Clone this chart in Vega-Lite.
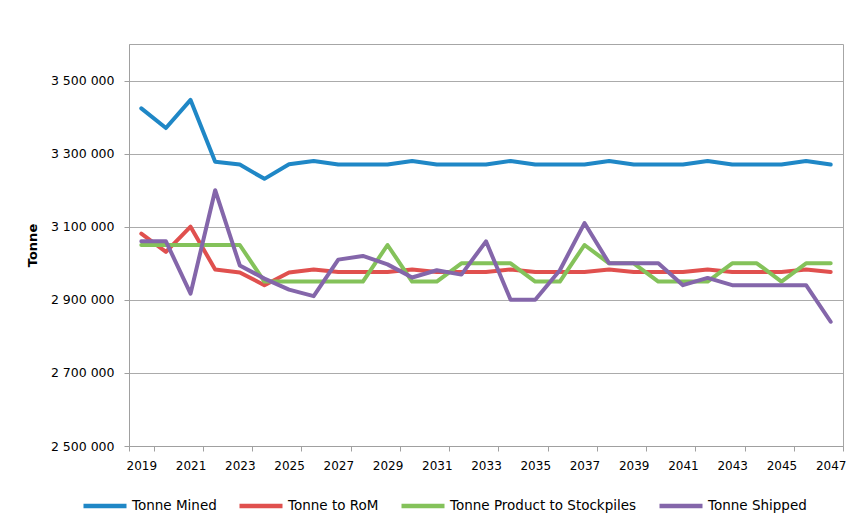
{
  "$schema": "https://vega.github.io/schema/vega-lite/v6.json",
  "width": 714,
  "height": 402,
  "autosize": {"type": "none"},
  "padding": {"left": 129, "top": 44, "right": 18, "bottom": 84},
  "background": "white",
  "config": {
    "font": "DejaVu Sans",
    "view": {"stroke": "#a6a6a6", "strokeWidth": 1},
    "axis": {"labelFont": "DejaVu Sans", "labelColor": "#000000", "titleFont": "DejaVu Sans"}
  },
  "data": {
    "values": [
      {"year": 2019, "Tonne Mined": 3424000, "Tonne to RoM": 3081000, "Tonne Product to Stockpiles": 3050000, "Tonne Shipped": 3060000},
      {"year": 2020, "Tonne Mined": 3370000, "Tonne to RoM": 3031000, "Tonne Product to Stockpiles": 3050000, "Tonne Shipped": 3060000},
      {"year": 2021, "Tonne Mined": 3447000, "Tonne to RoM": 3100000, "Tonne Product to Stockpiles": 3050000, "Tonne Shipped": 2917000},
      {"year": 2022, "Tonne Mined": 3278000, "Tonne to RoM": 2983000, "Tonne Product to Stockpiles": 3050000, "Tonne Shipped": 3200000},
      {"year": 2023, "Tonne Mined": 3270000, "Tonne to RoM": 2975000, "Tonne Product to Stockpiles": 3050000, "Tonne Shipped": 2994000},
      {"year": 2024, "Tonne Mined": 3231000, "Tonne to RoM": 2940000, "Tonne Product to Stockpiles": 2950000, "Tonne Shipped": 2958000},
      {"year": 2025, "Tonne Mined": 3271000, "Tonne to RoM": 2975000, "Tonne Product to Stockpiles": 2950000, "Tonne Shipped": 2928000},
      {"year": 2026, "Tonne Mined": 3280000, "Tonne to RoM": 2983000, "Tonne Product to Stockpiles": 2950000, "Tonne Shipped": 2910000},
      {"year": 2027, "Tonne Mined": 3270000, "Tonne to RoM": 2976000, "Tonne Product to Stockpiles": 2950000, "Tonne Shipped": 3010000},
      {"year": 2028, "Tonne Mined": 3270000, "Tonne to RoM": 2976000, "Tonne Product to Stockpiles": 2950000, "Tonne Shipped": 3020000},
      {"year": 2029, "Tonne Mined": 3270000, "Tonne to RoM": 2976000, "Tonne Product to Stockpiles": 3050000, "Tonne Shipped": 2997000},
      {"year": 2030, "Tonne Mined": 3280000, "Tonne to RoM": 2983000, "Tonne Product to Stockpiles": 2950000, "Tonne Shipped": 2961000},
      {"year": 2031, "Tonne Mined": 3270000, "Tonne to RoM": 2976000, "Tonne Product to Stockpiles": 2950000, "Tonne Shipped": 2981000},
      {"year": 2032, "Tonne Mined": 3270000, "Tonne to RoM": 2976000, "Tonne Product to Stockpiles": 3000000, "Tonne Shipped": 2969000},
      {"year": 2033, "Tonne Mined": 3270000, "Tonne to RoM": 2976000, "Tonne Product to Stockpiles": 3000000, "Tonne Shipped": 3060000},
      {"year": 2034, "Tonne Mined": 3280000, "Tonne to RoM": 2983000, "Tonne Product to Stockpiles": 3000000, "Tonne Shipped": 2900000},
      {"year": 2035, "Tonne Mined": 3270000, "Tonne to RoM": 2976000, "Tonne Product to Stockpiles": 2950000, "Tonne Shipped": 2900000},
      {"year": 2036, "Tonne Mined": 3270000, "Tonne to RoM": 2976000, "Tonne Product to Stockpiles": 2950000, "Tonne Shipped": 2981000},
      {"year": 2037, "Tonne Mined": 3270000, "Tonne to RoM": 2976000, "Tonne Product to Stockpiles": 3050000, "Tonne Shipped": 3110000},
      {"year": 2038, "Tonne Mined": 3280000, "Tonne to RoM": 2983000, "Tonne Product to Stockpiles": 3000000, "Tonne Shipped": 3000000},
      {"year": 2039, "Tonne Mined": 3270000, "Tonne to RoM": 2976000, "Tonne Product to Stockpiles": 3000000, "Tonne Shipped": 3000000},
      {"year": 2040, "Tonne Mined": 3270000, "Tonne to RoM": 2976000, "Tonne Product to Stockpiles": 2950000, "Tonne Shipped": 3000000},
      {"year": 2041, "Tonne Mined": 3270000, "Tonne to RoM": 2976000, "Tonne Product to Stockpiles": 2950000, "Tonne Shipped": 2940000},
      {"year": 2042, "Tonne Mined": 3280000, "Tonne to RoM": 2983000, "Tonne Product to Stockpiles": 2950000, "Tonne Shipped": 2960000},
      {"year": 2043, "Tonne Mined": 3270000, "Tonne to RoM": 2976000, "Tonne Product to Stockpiles": 3000000, "Tonne Shipped": 2940000},
      {"year": 2044, "Tonne Mined": 3270000, "Tonne to RoM": 2976000, "Tonne Product to Stockpiles": 3000000, "Tonne Shipped": 2940000},
      {"year": 2045, "Tonne Mined": 3270000, "Tonne to RoM": 2976000, "Tonne Product to Stockpiles": 2950000, "Tonne Shipped": 2940000},
      {"year": 2046, "Tonne Mined": 3280000, "Tonne to RoM": 2983000, "Tonne Product to Stockpiles": 3000000, "Tonne Shipped": 2940000},
      {"year": 2047, "Tonne Mined": 3270000, "Tonne to RoM": 2976000, "Tonne Product to Stockpiles": 3000000, "Tonne Shipped": 2840000}
    ]
  },
  "transform": [
    {"fold": ["Tonne Mined", "Tonne to RoM", "Tonne Product to Stockpiles", "Tonne Shipped"], "as": ["series", "tonnes"]}
  ],
  "encoding": {
    "x": {
      "field": "year",
      "type": "ordinal",
      "bandPosition": 0.5,
      "scale": {"type": "band", "paddingInner": 0, "paddingOuter": 0},
      "axis": {
        "title": null,
        "values": [2019, 2021, 2023, 2025, 2027, 2029, 2031, 2033, 2035, 2037, 2039, 2041, 2043, 2045, 2047],
        "tickBand": "extent",
        "labelAngle": 0,
        "labelFontSize": 12,
        "labelPadding": 9,
        "tickSize": 5,
        "tickColor": "#a0a0a0",
        "domainColor": "#a0a0a0",
        "grid": false
      }
    },
    "y": {
      "field": "tonnes",
      "type": "quantitative",
      "scale": {"domain": [2500000, 3600000], "nice": false, "zero": false},
      "axis": {
        "title": "Tonne",
        "titleFontSize": 13,
        "titleFontWeight": "bold",
        "titleColor": "#000000",
        "titlePadding": 11,
        "values": [2500000, 2700000, 2900000, 3100000, 3300000, 3500000],
        "labelExpr": "replace(format(datum.value, ','), regexp(',', 'g'), ' ')",
        "labelFontSize": 12.5,
        "labelPadding": 10,
        "tickSize": 5,
        "tickColor": "#a0a0a0",
        "domainColor": "#a0a0a0",
        "gridColor": "#ababab",
        "gridWidth": 1
      }
    },
    "color": {
      "field": "series",
      "type": "nominal",
      "scale": {
        "domain": ["Tonne Mined", "Tonne to RoM", "Tonne Product to Stockpiles", "Tonne Shipped"],
        "range": ["#1f87c6", "#e0504e", "#84c25a", "#8466aa"]
      },
      "legend": {
        "title": null,
        "orient": "none",
        "legendX": -48,
        "legendY": 438,
        "direction": "horizontal",
        "columns": 4,
        "columnPadding": 13,
        "symbolType": "stroke",
        "symbolSize": 1850,
        "symbolStrokeWidth": 4.5,
        "labelFontSize": 13.5,
        "labelLimit": 0,
        "labelFont": "DejaVu Sans",
        "labelColor": "#000000",
        "labelOffset": 3,
        "padding": 0
      }
    }
  },
  "layer": [
    {"transform": [{"filter": "datum.series === 'Tonne Mined'"}], "mark": {"type": "line", "strokeWidth": 4, "strokeJoin": "round", "strokeCap": "round"}},
    {"transform": [{"filter": "datum.series === 'Tonne to RoM'"}], "mark": {"type": "line", "strokeWidth": 4, "strokeJoin": "round", "strokeCap": "round"}},
    {"transform": [{"filter": "datum.series === 'Tonne Product to Stockpiles'"}], "mark": {"type": "line", "strokeWidth": 4, "strokeJoin": "round", "strokeCap": "round"}},
    {"transform": [{"filter": "datum.series === 'Tonne Shipped'"}], "mark": {"type": "line", "strokeWidth": 4, "strokeJoin": "round", "strokeCap": "round"}}
  ]
}
